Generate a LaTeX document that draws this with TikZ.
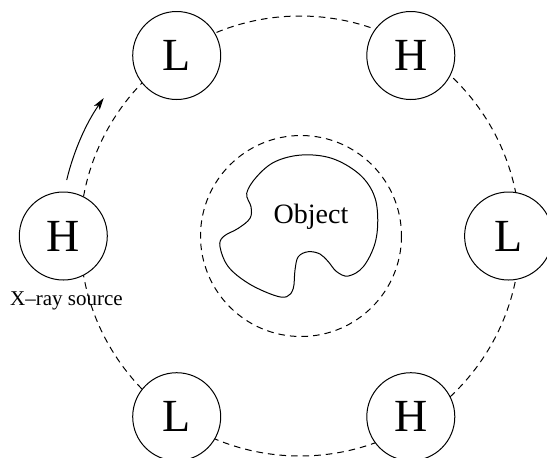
\documentclass[tikz,border=0pt]{standalone}
\usepackage{fontspec}
\setmainfont{Liberation Serif}
\usetikzlibrary{arrows.meta}
\tikzset{
  tube/.style={circle, draw, fill=white, minimum size=44pt, inner sep=0pt,
    font=\fontsize{23}{23}\selectfont},
  orbit/.style={dash pattern=on 3.3pt off 2.5pt}
}

\begin{document}
\begin{tikzpicture}[x=0.5pt, y=-0.5pt, line width=0.5pt]
\useasboundingbox (0,0) rectangle (547,457);

  % path of the source and field of view
  \coordinate (centre) at (300,236);
  \draw[orbit] (centre) circle[radius=220];
  \draw[orbit] (301,236) circle[radius=100.5];

  % the object
  \draw plot[smooth cycle, tension=0.6] coordinates {
    (246.7,193.3) (256.7,176.7) (275,161.7) (301.7,155) (331.7,158.3)
    (358.3,173.3) (373.3,193.3) (377.7,216.7) (375,243.3) (363.3,266.7)
    (348.3,276) (336.7,271.7) (328.3,261.7) (320,254) (308.3,251.7)
    (298.3,256.7) (295,270) (293.3,288.3) (286.7,296.7) (273.3,295)
    (248.3,283.3) (228.3,266.7) (220,246.7) (223.3,236.7) (238.3,228.3)
    (250,218.3) (251,206.7)};
  \node[anchor=base, font=\fontsize{14}{14}\selectfont] (obj) at (311,223.3) {Object};

  % source positions
  \node[tube] (L1) at (176.7,55.5) {L};
  \node[tube] (H1) at (410.8,55.5) {H};
  \node[tube] (L2) at (508.6,236) {L};
  \node[tube] (H2) at (410.8,416.7) {H};
  \node[tube] (L3) at (176.7,416.7) {L};
  \node[tube] (H3) at (63.3,236) {H};
  \node[anchor=base, font=\fontsize{10.5}{10.5}\selectfont] (src) at (66.4,305) {X--ray source};

  % direction of rotation
  \draw[-{Stealth[length=6pt, width=3.5pt, inset=1.5pt]}]
    (66.7,180) arc[start angle=193.5, end angle=215.1, radius=240];

\end{tikzpicture}
\end{document}
